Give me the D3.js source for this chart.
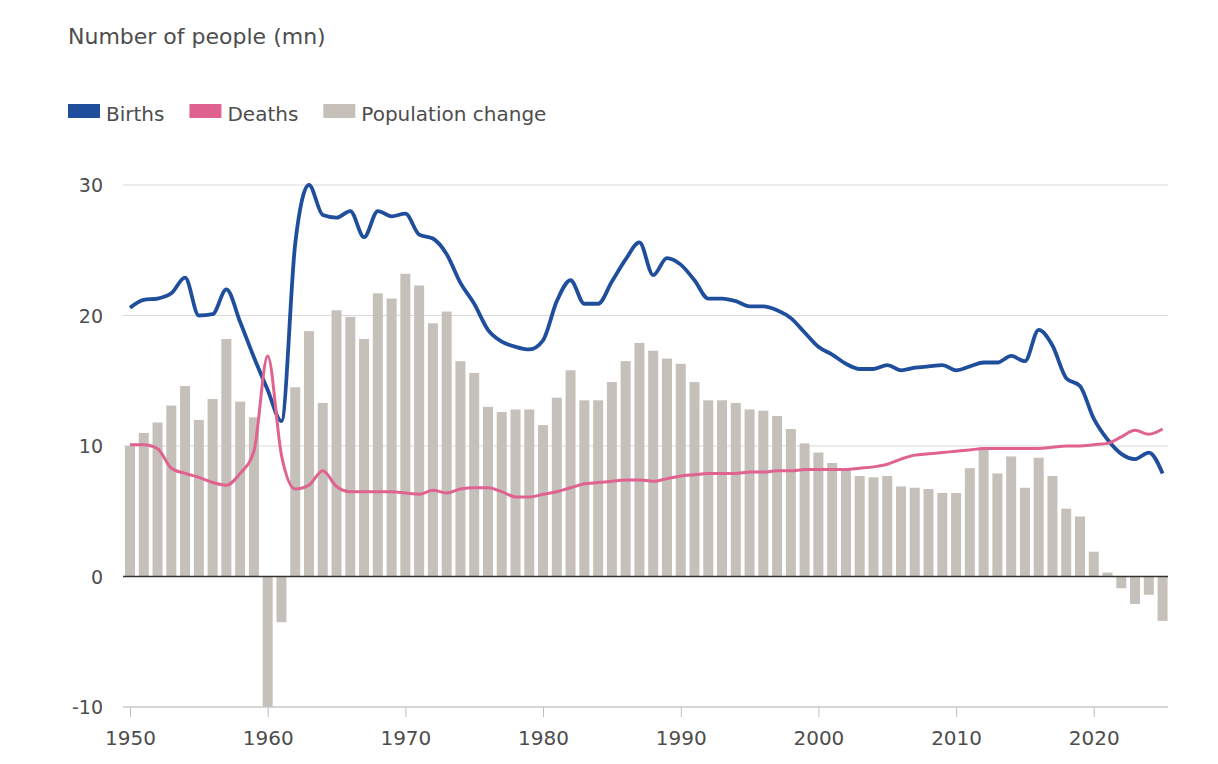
<!DOCTYPE html>
<html>
<head>
<meta charset="utf-8">
<script src="https://cdn.jsdelivr.net/npm/d3@7"></script>
<style>
  body { margin: 0; background: #ffffff; }
  svg { display: block; }
  text { font-family: "DejaVu Sans", "Open Sans", sans-serif; fill: #4d4d4d; }
</style>
</head>
<body>
<script>
const years = d3.range(1950, 2026);

const births = [
  20.6, 21.2, 21.3, 21.7, 22.9, 20.0, 20.1, 22.0, 19.5, 16.8,
  14.3, 11.9, 25.5, 30.0, 27.7, 27.5, 28.0, 26.0, 28.0, 27.6,
  27.8, 26.2, 25.9, 24.7, 22.5, 20.9, 18.9, 18.0, 17.6, 17.4,
  18.1, 21.1, 22.7, 20.9, 20.9, 22.6, 24.3, 25.6, 23.1, 24.4,
  23.9, 22.7, 21.3, 21.3, 21.1, 20.7, 20.7, 20.4, 19.8, 18.7,
  17.6, 17.0, 16.3, 15.9, 15.9, 16.2, 15.8, 16.0, 16.1, 16.2,
  15.8, 16.1, 16.4, 16.4, 16.9, 16.5, 18.9, 17.7, 15.2, 14.6,
  12.1, 10.5, 9.4, 9.0, 9.5, 7.9
];

const deaths = [
  10.1, 10.1, 9.8, 8.3, 7.9, 7.6, 7.2, 7.0, 7.9, 9.6,
  16.9, 9.3, 6.7, 7.0, 8.1, 6.9, 6.5, 6.5, 6.5, 6.5,
  6.4, 6.3, 6.6, 6.4, 6.7, 6.8, 6.8, 6.5, 6.1, 6.1,
  6.3, 6.5, 6.8, 7.1, 7.2, 7.3, 7.4, 7.4, 7.3, 7.5,
  7.7, 7.8, 7.9, 7.9, 7.9, 8.0, 8.0, 8.1, 8.1, 8.2,
  8.2, 8.2, 8.2, 8.3, 8.4, 8.6, 9.0, 9.3, 9.4, 9.5,
  9.6, 9.7, 9.8, 9.8, 9.8, 9.8, 9.8, 9.9, 10.0, 10.0,
  10.1, 10.2, 10.7, 11.2, 10.9, 11.3
];

const popChange = [
  10.0, 11.0, 11.8, 13.1, 14.6, 12.0, 13.6, 18.2, 13.4, 12.2,
  -10.0, -3.5, 14.5, 18.8, 13.3, 20.4, 19.9, 18.2, 21.7, 21.3,
  23.2, 22.3, 19.4, 20.3, 16.5, 15.6, 13.0, 12.6, 12.8, 12.8,
  11.6, 13.7, 15.8, 13.5, 13.5, 14.9, 16.5, 17.9, 17.3, 16.7,
  16.3, 14.9, 13.5, 13.5, 13.3, 12.8, 12.7, 12.3, 11.3, 10.2,
  9.5, 8.7, 8.2, 7.7, 7.6, 7.7, 6.9, 6.8, 6.7, 6.4,
  6.4, 8.3, 9.7, 7.9, 9.2, 6.8, 9.1, 7.7, 5.2, 4.6,
  1.9, 0.3, -0.9, -2.1, -1.4, -3.4
];

const yTicks = [-10, 0, 10, 20, 30];
const xTicks = [1950, 1960, 1970, 1980, 1990, 2000, 2010, 2020];

const legendItems = [
  {label: "Births", color: "#1f4e9c"},
  {label: "Deaths", color: "#e0628f"},
  {label: "Population change", color: "#c6c0bb"}
];

const width = 1218, height = 764;
const svg = d3.select("body").append("svg")
  .attr("width", width)
  .attr("height", height);

const x = d3.scaleLinear().domain([1950, 2025]).range([130, 1162.6]);
const y = d3.scaleLinear().domain([-10, 30]).range([707, 185]);
const gridLeft = 123, gridRight = 1168;
const barWidth = 10;

// title
svg.append("text")
  .attr("x", 68).attr("y", 44)
  .style("font-size", "22px")
  .text("Number of people (mn)");

// legend
let lx = 68;
legendItems.forEach(item => {
  svg.append("rect")
    .attr("x", lx).attr("y", 104)
    .attr("width", 32).attr("height", 14)
    .style("fill", item.color);
  const t = svg.append("text")
    .attr("x", lx + 38).attr("y", 121)
    .style("font-size", "20px")
    .text(item.label);
  lx += 38 + t.node().getComputedTextLength() + 25;
});

// gridlines
svg.append("g").selectAll("line")
  .data(yTicks.filter(d => d > 0))
  .enter().append("line")
  .attr("x1", gridLeft).attr("x2", gridRight)
  .attr("y1", d => y(d)).attr("y2", d => y(d))
  .style("stroke", "#d9d9d9").style("stroke-width", 1);

// y labels
svg.append("g").selectAll("text")
  .data(yTicks)
  .enter().append("text")
  .attr("x", 103).attr("y", d => y(d) + 7)
  .attr("text-anchor", "end")
  .style("font-size", "19px")
  .text(d => d);

// bars
svg.append("g").selectAll("rect")
  .data(years)
  .enter().append("rect")
  .attr("x", (d) => x(d) - barWidth / 2)
  .attr("width", barWidth)
  .attr("y", (d, i) => y(Math.max(0, popChange[i])))
  .attr("height", (d, i) => Math.abs(y(popChange[i]) - y(0)))
  .style("fill", "#c6c0bb");

// zero line
svg.append("line")
  .attr("x1", gridLeft).attr("x2", gridRight)
  .attr("y1", y(0)).attr("y2", y(0))
  .style("stroke", "#333333").style("stroke-width", 1.5);

// x axis
const xAxis = d3.axisBottom(x)
  .tickValues(xTicks)
  .tickFormat(d3.format("d"))
  .tickSize(10)
  .tickPadding(14);
const gx = svg.append("g")
  .attr("transform", `translate(0,${y(-10)})`)
  .call(xAxis);
gx.select(".domain").remove();
gx.selectAll(".tick line").style("stroke", "#bdbdbd");
gx.selectAll(".tick text")
  .style("font-size", "20px")
  .style("font-family", "\"DejaVu Sans\", sans-serif")
  .style("fill", "#4d4d4d");
gx.insert("line", ":first-child")
  .attr("x1", gridLeft).attr("x2", gridRight)
  .attr("y1", 0).attr("y2", 0)
  .style("stroke", "#c8c8c8").style("stroke-width", 1.5);

// lines
const line = d3.line()
  .x(d => x(d[0]))
  .y(d => y(d[1]))
  .curve(d3.curveMonotoneX);

svg.append("path")
  .datum(years.map((yr, i) => [yr, births[i]]))
  .attr("d", line)
  .style("fill", "none")
  .style("stroke", "#1f4e9c")
  .style("stroke-width", 3.8)
  .style("stroke-linejoin", "round");

svg.append("path")
  .datum(years.map((yr, i) => [yr, deaths[i]]))
  .attr("d", line)
  .style("fill", "none")
  .style("stroke", "#e0628f")
  .style("stroke-width", 3)
  .style("stroke-linejoin", "round");
</script>
</body>
</html>
